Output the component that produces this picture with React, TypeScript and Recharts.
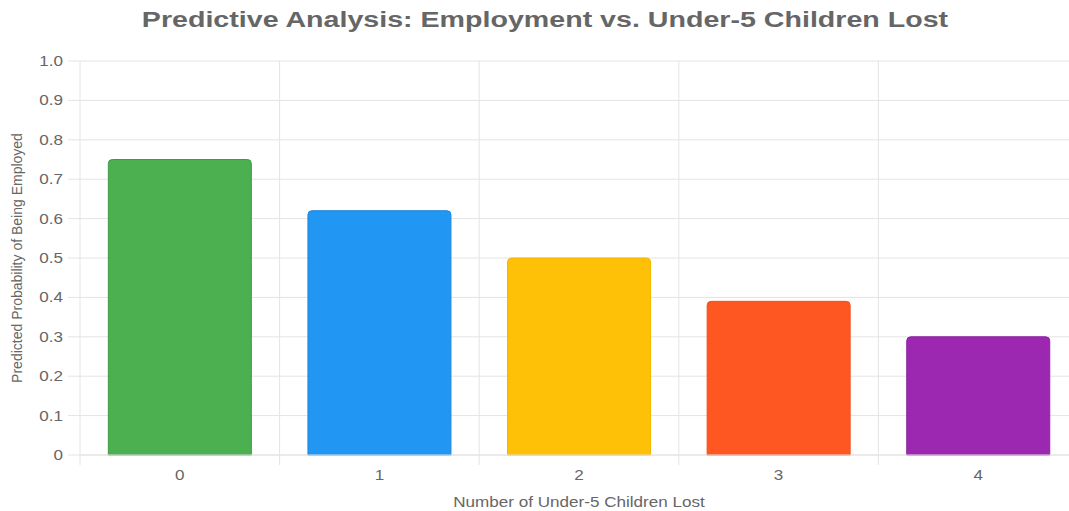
import React from 'react';
import { BarChart, Bar, XAxis, YAxis, CartesianGrid, Cell, Label } from 'recharts';

// Number of under-5 children lost (categories)
const childrenLost = ['0', '1', '2', '3', '4'];
// Predicted probability of being employed for each category
const probabilities = [0.75, 0.62, 0.5, 0.39, 0.3];
// Bar fill and border colours
const fillColors = ['#4CAF50', '#2196F3', '#FFC107', '#FF5722', '#9C27B0'];
const borderColors = ['#3f9a43', '#1d86dc', '#f2b500', '#f04e1c', '#8b22a0'];
// Y axis ticks
const yTicks = [0, 0.1, 0.2, 0.3, 0.4, 0.5, 0.6, 0.7, 0.8, 0.9, 1.0];

const data = childrenLost.map((c, i) => ({ lost: c, prob: probabilities[i] }));

const FONT = '"Liberation Sans", Arial, Helvetica, sans-serif';
const TEXT = '#666666';
const GRID = '#e4e4e4';
// horizontal glyph widening used for the horizontal labels
const WIDEN = 1.22;

const W = 1090;
const H = 511;

const formatY = (v: number) => (v === 0 ? '0' : v.toFixed(1));

function XTick(props: any) {
  const { x, y, payload } = props;
  return (
    <text
      transform={`translate(${x}, ${y + 15}) scale(${WIDEN}, 1)`}
      textAnchor="middle"
      dy="0.71em"
      fill={TEXT}
      fontSize={14}
      fontFamily={FONT}
    >
      {payload.value}
    </text>
  );
}

function YTick(props: any) {
  const { x, y, payload } = props;
  return (
    <text
      transform={`translate(${x}, ${y}) scale(${WIDEN}, 1)`}
      textAnchor="end"
      dy="0.355em"
      fill={TEXT}
      fontSize={14}
      fontFamily={FONT}
    >
      {formatY(payload.value)}
    </text>
  );
}

export default function App() {
  return (
    <div
      style={{
        position: 'fixed',
        left: 0,
        top: 0,
        width: 1069,
        height: 511,
        overflow: 'hidden',
        background: '#ffffff',
        fontFamily: FONT,
      }}
    >
      <div
        style={{
          position: 'absolute',
          left: 0,
          top: 6,
          width: W,
          textAlign: 'center',
          fontSize: 22,
          fontWeight: 'bold',
          color: TEXT,
          lineHeight: '28px',
          transform: 'scaleX(1.3)',
          transformOrigin: `${W / 2}px 0px`,
        }}
      >
        Predictive Analysis: Employment vs. Under-5 Children Lost
      </div>
      <div style={{ position: 'absolute', left: 0, top: 0 }}>
        <BarChart
          width={W}
          height={H}
          data={data}
          margin={{ top: 61, right: 12, left: 0, bottom: 0 }}
          barCategoryGap="14.2%"
        >
          <CartesianGrid
            stroke={GRID}
            verticalCoordinatesGenerator={({ offset }: any) =>
              childrenLost.map((_, i) => offset.left + (i * offset.width) / childrenLost.length).concat([
                offset.left + offset.width,
              ])
            }
            vertical={(p: any) => (
              <line
                key={p.key}
                x1={p.x1}
                x2={p.x2}
                y1={p.y1}
                y2={p.y2 + 10}
                stroke={GRID}
                strokeWidth={1}
              />
            )}
            horizontal={(p: any) => (
              <line
                key={p.key}
                x1={p.x1 - 12}
                x2={p.x2}
                y1={p.y1}
                y2={p.y2}
                stroke={GRID}
                strokeWidth={1}
              />
            )}
          />
          <XAxis
            dataKey="lost"
            height={56}
            tickLine={false}
            axisLine={{ stroke: GRID }}
            tickSize={0}
            tickMargin={0}
            tick={<XTick />}
          >
            <Label
              content={({ viewBox }: any) => (
                <text
                  transform={`translate(${viewBox.x + viewBox.width / 2}, 507) scale(${WIDEN}, 1)`}
                  textAnchor="middle"
                  fill={TEXT}
                  fontSize={14}
                  fontFamily={FONT}
                >
                  Number of Under-5 Children Lost
                </text>
              )}
            />
          </XAxis>
          <YAxis
            width={80}
            domain={[0, 1]}
            ticks={yTicks}
            interval={0}
            tickLine={false}
            axisLine={false}
            tickSize={0}
            tickMargin={17}
            tick={<YTick />}
          >
            <Label
              content={({ viewBox }: any) => {
                const cy = viewBox.y + viewBox.height / 2;
                return (
                  <text
                    x={22}
                    y={cy}
                    transform={`rotate(-90, 22, ${cy})`}
                    textAnchor="middle"
                    fill={TEXT}
                    fontSize={14}
                    fontFamily={FONT}
                  >
                    Predicted Probability of Being Employed
                  </text>
                );
              }}
            />
          </YAxis>
          <Bar dataKey="prob" isAnimationActive={false} radius={[4, 4, 0, 0]} strokeWidth={1}>
            {data.map((d, i) => (
              <Cell key={d.lost} fill={fillColors[i]} stroke={borderColors[i]} />
            ))}
          </Bar>
        </BarChart>
      </div>
    </div>
  );
}
